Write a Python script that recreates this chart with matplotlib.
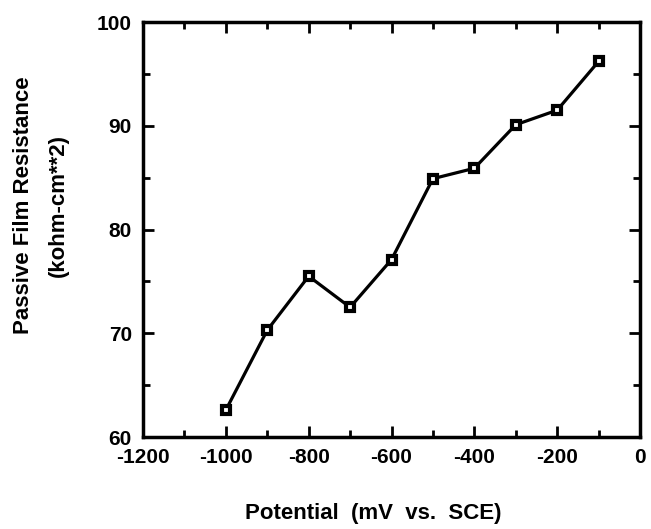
import matplotlib
matplotlib.use("Agg")
import matplotlib.pyplot as plt
from matplotlib.ticker import MultipleLocator

plt.rcParams["font.family"] = ["Liberation Sans", "DejaVu Sans"]
plt.rcParams["font.weight"] = "bold"
plt.rcParams["axes.unicode_minus"] = False

# 데이터
potential = [-1000, -900, -800, -700, -600, -500, -400, -300, -200, -100]
resistance = [62.6, 70.3, 75.5, 72.5, 77.1, 84.9, 85.9, 90.1, 91.5, 96.2]

fig = plt.figure(figsize=(6.51, 5.29), dpi=100)
ax = fig.add_axes([0.2197, 0.1739, 0.7634, 0.7845])

ax.plot(potential, resistance, color="black", linewidth=2.3,
        marker="s", markersize=6, markerfacecolor="white",
        markeredgecolor="black", markeredgewidth=3)

ax.set_xlim(-1200, 0)
ax.set_ylim(60, 100)
ax.xaxis.set_major_locator(MultipleLocator(200))
ax.xaxis.set_minor_locator(MultipleLocator(100))
ax.yaxis.set_major_locator(MultipleLocator(10))
ax.yaxis.set_minor_locator(MultipleLocator(5))

ax.tick_params(which="both", direction="in", top=True, right=True,
               width=2, labelsize=15, pad=8)
ax.tick_params(which="major", length=8)
ax.tick_params(which="minor", length=5)
for s in ax.spines.values():
    s.set_linewidth(2.5)

fig.text(0.036, 0.612, "Passive Film Resistance",
         rotation=90, ha="center", va="center", fontsize=16, fontweight="bold")
fig.text(0.090, 0.612, "(kohm-cm**2)",
         rotation=90, ha="center", va="center", fontsize=16, fontweight="bold")
fig.text(0.573, 0.03, "Potential  (mV  vs.  SCE)",
         ha="center", va="center", fontsize=16, fontweight="bold")

fig.savefig("out.png", dpi=100)
